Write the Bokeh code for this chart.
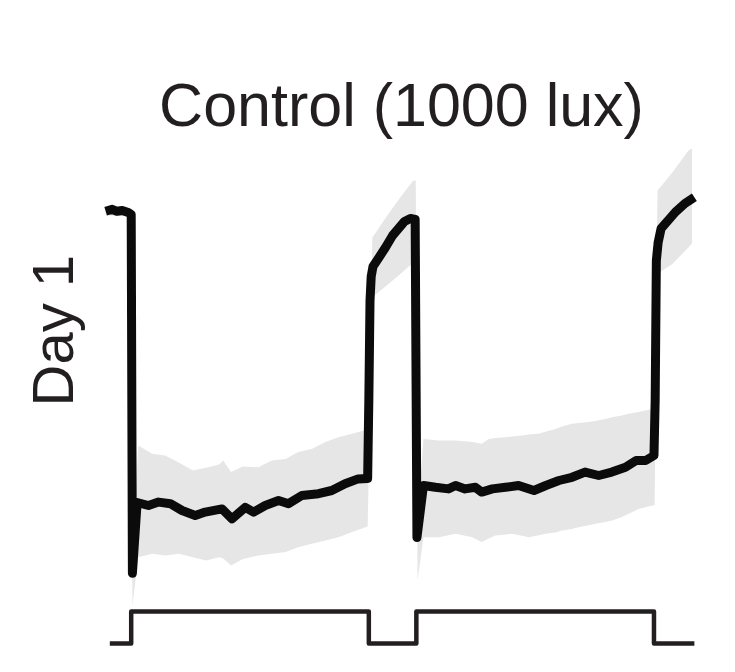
from bokeh.plotting import figure
from bokeh.models import Range1d, Title
from bokeh.embed import file_html
from bokeh.resources import INLINE

# ---- data (hours relative to lights-on; arbitrary signal units) ----
mean_t = [-2.15, -1.6, -1.2, -0.75, -0.25, 0.0, 0.1, 0.5, 1.45, 2.3, 3.3, 4.28, 5.39, 6.23,
          7.64, 8.48, 9.6, 10.3, 11.28, 12.4, 13.24, 14.36, 15.76, 16.88, 18.0, 19.1, 19.9,
          20.0, 20.1, 20.2, 20.35, 20.8, 21.4, 22.0, 22.5, 23.0, 23.5, 23.9, 24.05, 24.6,
          25.6, 26.7, 27.3, 28.1, 28.97, 29.5, 30.4, 31.5, 32.6, 33.9, 34.9, 36.0, 37.1,
          38.2, 39.35, 40.45, 41.6, 42.5, 43.3, 44.0, 44.1, 44.2, 44.35, 44.6, 45.8, 46.6, 47.4]
mean_v = [97.3, 97.8, 97.3, 97.5, 97.0, 96.5, 6.8, 24.5, 23.75, 24.6, 24.2, 22.5, 21.25, 22.1,
          22.9, 20.4, 23.3, 22.1, 23.75, 25.0, 24.2, 26.25, 26.7, 27.5, 29.2, 30.4, 30.5,
          50.0, 75.0, 81.0, 83.5, 85.5, 88.25, 91.25, 93.0, 94.75, 95.5, 95.25, 15.75, 28.75,
          28.3, 27.9, 28.75, 27.9, 28.3, 27.1, 27.9, 28.3, 28.75, 27.5, 28.75, 30.0, 30.8,
          32.1, 31.25, 32.1, 33.3, 35.0, 35.0, 36.25, 50.0, 85.0, 89.5, 93.0, 97.1, 99.25, 100.8]

band_t = [-2.15, -0.2, 0.0, 0.1, 0.6, 1.75, 2.85, 4.0, 5.2, 6.3, 7.4, 7.75, 8.4, 9.4, 10.7,
          11.85, 13.0, 14.05, 15.2, 16.35, 17.45, 18.6, 19.6, 19.9, 20.3, 21.5, 22.7, 23.75,
          23.95, 24.1, 24.6, 25.9, 27.3, 28.7, 29.5, 30.1, 30.65, 31.5, 32.06, 32.9, 33.45,
          34.3, 34.86, 35.7, 36.26, 37.1, 37.65, 38.5, 39.07, 39.9, 40.48, 41.3, 41.87, 42.7,
          43.28, 43.85, 44.05, 44.3, 45.5, 46.9, 47.2]
band_lo = [96.3, 96.0, 95.5, -1.25, 10.8, 11.7, 11.25, 11.7, 10.8, 10.0, 10.8, 10.5, 8.75, 10.4,
           11.25, 11.7, 12.1, 13.3, 14.2, 15.0, 15.8, 17.1, 18.2, 18.5, 75.8, 78.75, 81.75, 84.5,
           85.0, 5.0, 15.8, 15.8, 16.7, 15.8, 14.6, 15.5, 16.25, 16.5, 16.7, 16.2, 15.8,
           16.3, 16.7, 17.0, 17.5, 17.9, 18.3, 18.8, 19.2, 19.6, 20.0, 20.9, 21.7, 22.9,
           23.3, 23.75, 23.75, 81.75, 84.0, 88.25, 89.25]
band_hi = [98.3, 98.0, 97.5, 14.0, 38.75, 36.7, 36.25, 34.5, 32.5, 33.2, 34.0, 35.0, 32.1, 33.5,
           33.3, 35.0, 35.4, 37.1, 37.9, 39.6, 40.8, 41.7, 42.5, 42.8, 90.75, 96.0, 101.0, 105.0,
           105.0, 20.0, 40.4, 40.0, 40.0, 39.6, 39.2, 40.4, 40.6, 40.8, 41.0, 41.25, 41.5,
           41.7, 42.2, 42.9, 43.5, 44.2, 44.4, 44.6, 44.9, 45.4, 45.8, 46.25, 46.7, 47.1,
           47.5, 47.9, 48.0, 102.5, 106.8, 112.5, 113.0]

light_t = [-1.8, 0.0, 20.0, 24.0, 44.0, 47.4]
light_on = [0, 1, 0, 1, 0, 0]

title_text = "Control (1000 lux)"
row_label = "Day 1"

FONT = "Liberation Sans"
INK = "#231f20"

p = figure(width=719, height=656, output_backend="svg", toolbar_location=None,
           x_range=Range1d(-2.5, 48.0), y_range=Range1d(-13, 113.75),
           min_border_left=101, min_border_right=18, min_border_top=145, min_border_bottom=4,
           title=title_text)
p.extra_y_ranges = {"light": Range1d(-0.281, 15.56)}

p.varea(x=band_t, y1=band_lo, y2=band_hi, fill_color="#e6e6e7", fill_alpha=1.0)
p.line(mean_t, mean_v, line_color="#0b0b0b", line_width=9, line_join="round")
p.step(light_t, light_on, mode="after", y_range_name="light",
       line_color=INK, line_width=4.5, line_join="round")

p.title.text_font = FONT
p.title.text_font_size = "61px"
p.title.text_font_style = "normal"
p.title.text_color = INK
p.title.align = "center"
p.title.standoff = 14

row_title = Title(text=row_label, align="left", offset=246, vertical_align="bottom",
                  standoff=34, text_font=FONT, text_font_size="58px",
                  text_font_style="normal", text_color=INK)
p.add_layout(row_title, "left")

p.xaxis.visible = False
p.yaxis.visible = False
p.xgrid.visible = False
p.ygrid.visible = False
p.outline_line_color = None
p.background_fill_color = "white"
p.border_fill_color = "white"

open("out.html", "w").write(file_html(p, INLINE))
